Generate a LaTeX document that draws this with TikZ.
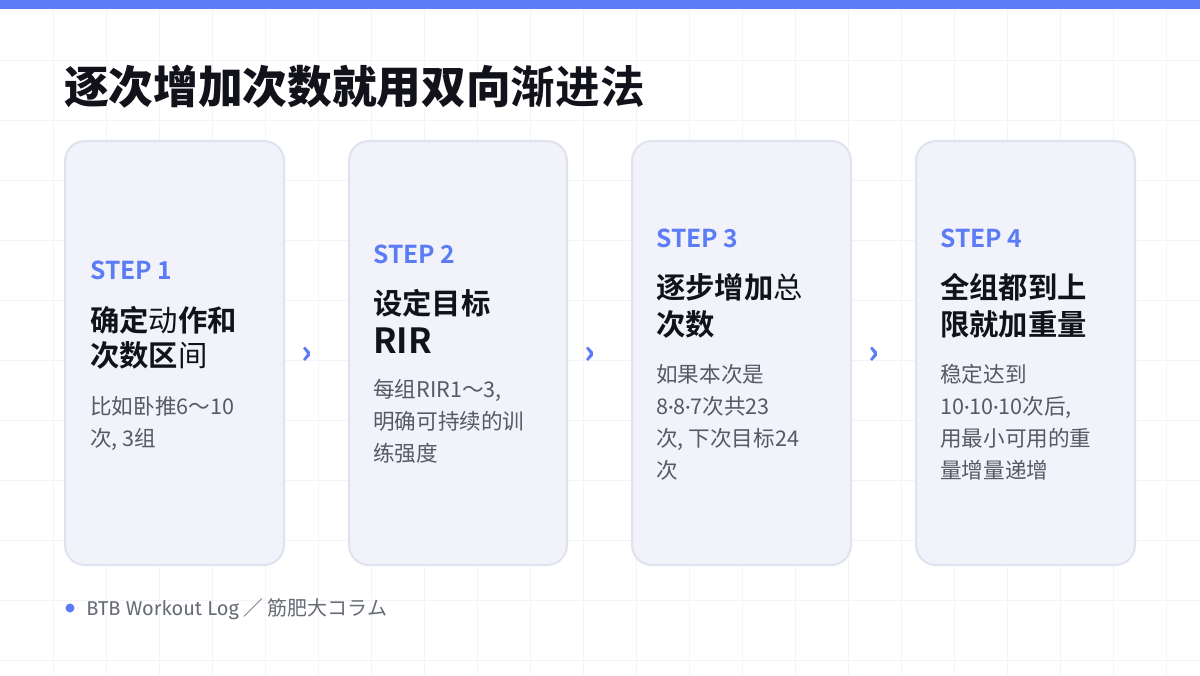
\documentclass[tikz,border=0pt]{standalone}
\usepackage{fontspec}
\setmainfont{Noto Sans CJK SC}
\newfontfamily\cjkb{Noto Sans CJK SC Bold}
\newfontfamily\cjkk{Noto Sans CJK SC Black}
\newfontfamily\latf{Fira Sans}
\newcommand\dt{{\latf ·}}
\definecolor{accent}{HTML}{5B7CF5}
\definecolor{cardfill}{HTML}{F1F2FA}
\definecolor{cardline}{HTML}{DFE2EF}
\definecolor{bodytxt}{HTML}{555A66}
\definecolor{titletxt}{HTML}{12131A}
\definecolor{gridc}{HTML}{F3F4F7}
\begin{document}
\begin{tikzpicture}[x=0.75pt,y=-0.75pt,
  card/.style={draw=cardline,line width=1.5pt,fill=cardfill,rounded corners=15pt},
  stp/.style={anchor=base west,inner sep=0,text=accent,font=\cjkb\fontsize{18.5}{20}\selectfont},
  ttl/.style={anchor=base west,inner sep=0,text=titletxt,font=\cjkb\fontsize{22}{24}\selectfont},
  body/.style={anchor=base west,inner sep=0,text=bodytxt,font=\fontsize{16.2}{20}\selectfont},
  arr/.style={text=accent,font=\cjkk\fontsize{24}{24}\selectfont}]
\useasboundingbox (0,0) rectangle (1200,675);
\fill[white] (0,0) rectangle (1200,675);
\foreach \x in {53,106,...,1200} \draw[gridc,line width=0.5pt] (\x,8) -- (\x,675);
\foreach \y in {60,120,...,675} \draw[gridc,line width=0.5pt] (0,\y) -- (1200,\y);
\fill[accent] (0,0) rectangle (1200,9);
\node[anchor=base west,inner sep=0,text=titletxt,font=\cjkk\fontsize{33.5}{36}\selectfont] (title) at (64,103) {逐次增加次数就用双向{\cjkb 渐进法}};
% cards
\draw[card] (65,141) rectangle (284,565);
\draw[card] (349,141) rectangle (567,565);
\draw[card] (632,141) rectangle (851,565);
\draw[card] (916,141) rectangle (1135,565);
\node[arr] (a1) at (307,355) {›};
\node[arr] (a2) at (590,355) {›};
\node[arr] (a3) at (874,355) {›};
% card 1
\node[stp] (s1) at (90,279) {STEP 1};
\node[ttl] (t1a) at (90,331) {确定{\rmfamily 动}作和};
\node[ttl] (t1b) at (90,366) {次数区{\rmfamily 间}};
\node[body] (b1a) at (90,414) {比如卧推6～10};
\node[body] (b1b) at (90,446) {次, 3组};
% card 2
\node[stp] (s2) at (373,263) {STEP 2};
\node[ttl] (t2a) at (373,314) {设定目标};
\node[ttl,font=\cjkb\fontsize{26}{28}\selectfont] (t2b) at (373,353) {RIR};
\node[body] (b2a) at (373,397) {每组RIR1～3,};
\node[body] (b2b) at (373,429) {明确可持续的训};
\node[body] (b2c) at (373,461) {练强度};
% card 3
\node[stp] (s3) at (656,247) {STEP 3};
\node[ttl] (t3a) at (656,298) {逐步增加{\rmfamily 总}};
\node[ttl] (t3b) at (656,335) {次数};
\node[body] (b3a) at (656,382) {如果本次是};
\node[body] (b3b) at (656,414) {8\dt8\dt7次共23};
\node[body] (b3c) at (656,446) {次, 下次目标24};
\node[body] (b3d) at (656,478) {次};
% card 4
\node[stp] (s4) at (940,247) {STEP 4};
\node[ttl] (t4a) at (940,298) {全组都到上};
\node[ttl] (t4b) at (940,335) {限就加重量};
\node[body] (b4a) at (940,382) {稳定达到};
\node[body] (b4b) at (940,414) {10\dt10\dt10次后,};
\node[body] (b4c) at (940,446) {用最小可用的重};
\node[body] (b4d) at (940,478) {量增量递增};
% footer
\fill[accent] (70,608) circle (4.5);
\node[anchor=base west,inner sep=0,text=bodytxt!90,font=\fontsize{15}{18}\selectfont] (foot) at (86,615) {{\latf BTB Workout Log} ／ 筋肥大コラム};
\end{tikzpicture}
\end{document}
